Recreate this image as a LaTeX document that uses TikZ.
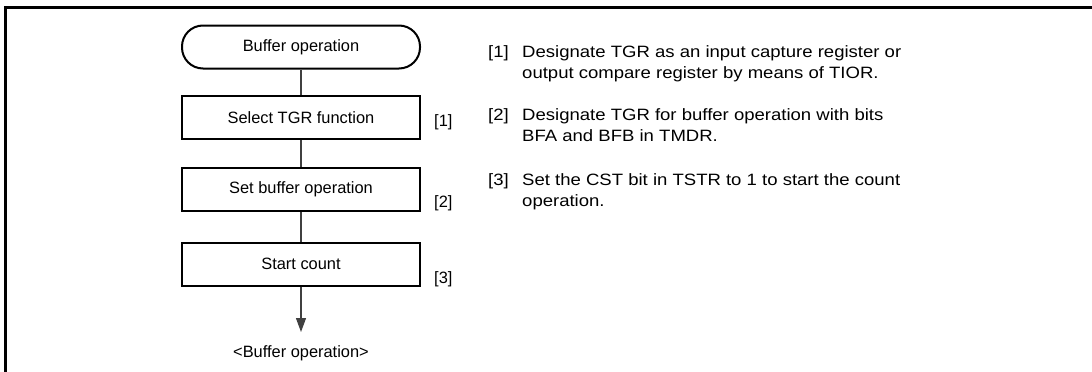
\documentclass[tikz,border=0pt]{standalone}
\usepackage{fontspec}
\setmainfont{Liberation Sans}
\newfontfamily\descfont{Liberation Sans}[FakeStretch=1.13]
\usetikzlibrary{arrows.meta}
\begin{document}
\begin{tikzpicture}[x=1pt,y=-1pt, font=\fontsize{16.4}{21.5}\selectfont,
 box/.style={draw, line width=2pt, minimum width=238pt, minimum height=43pt, inner sep=0pt},
 term/.style={box, rounded corners=21pt},
 conn/.style={line width=1.2pt, draw=black!75},
 txt/.style={anchor=base west, inner sep=0pt},
 desc/.style={txt, font=\descfont\fontsize{16.4}{21.5}\selectfont}]
\useasboundingbox (0,0) rectangle (1092,372);
\draw[line width=2.5pt] (5.5,372) -- (5.5,7.5) -- (1092,7.5);
\node[term] (t) at (301,47) {Buffer operation};
\node[box] (b1) at (301,117.5) {Select TGR function};
\node[box] (b2) at (301,189.5) {Set buffer operation};
\node[box] (b3) at (301,264) {Start count};
\coordinate (end) at (301,332);
\draw[conn] (t) -- (b1);
\draw[conn] (b1) -- (b2);
\draw[conn] (b2) -- (b3);
\draw[conn, -{Triangle[width=10pt,length=14pt]}] (b3) -- (end);
\node[anchor=base, inner sep=0pt] (out) at (301,357) {<Buffer operation>};
\node[txt] (l1) at (434,126) {[1]};
\node[txt] (l2) at (434,207) {[2]};
\node[txt] (l3) at (434,283) {[3]};
\node[desc] (n1) at (488,57) {[1]};
\node[desc] (d1) at (522,57) {Designate TGR as an input capture register or};
\node[desc] (d1b) at (522,78.5) {output compare register by means of TIOR.};
\node[desc] (n2) at (488,120) {[2]};
\node[desc] (d2) at (522,120) {Designate TGR for buffer operation with bits};
\node[desc] (d2b) at (522,141.5) {BFA and BFB in TMDR.};
\node[desc] (n3) at (488,185) {[3]};
\node[desc] (d3) at (522,185) {Set the CST bit in TSTR to 1 to start the count};
\node[desc] (d3b) at (522,206.5) {operation.};
\end{tikzpicture}
\end{document}
